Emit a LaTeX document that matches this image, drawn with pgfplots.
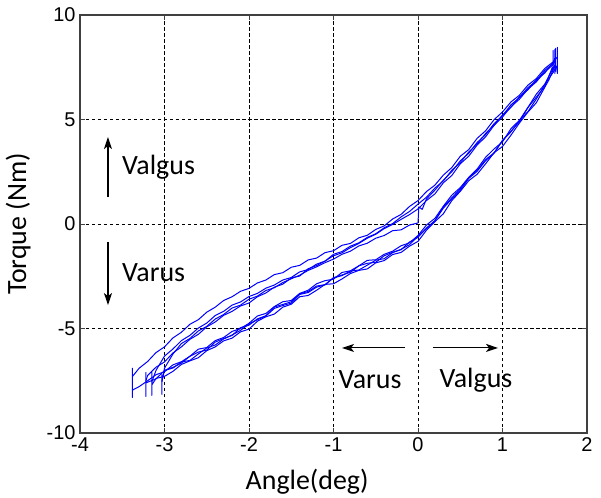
\documentclass[border=0pt]{standalone}
\usepackage{pgfplots}
\pgfplotsset{compat=1.18}
\usepackage{fontspec}
\setmainfont{Carlito}
\newfontfamily\tickfont{Liberation Sans}
\usetikzlibrary{arrows.meta}
\definecolor{mblue}{RGB}{0,0,255}
\pgfplotsset{blueline/.style={color=mblue, mark=none, line width=1bp, line join=round, solid}}
\begin{document}
\begin{tikzpicture}
\useasboundingbox (-80bp,-65bp) rectangle (521bp,433bp);
\begin{axis}[
  at={(0,0)}, anchor=south west,
  scale only axis, width=507bp, height=418bp,
  xmin=-4, xmax=2, ymin=-10, ymax=10,
  xtick={-4,-3,-2,-1,0,1,2}, ytick={-10,-5,0,5,10},
  grid=major,
  grid style={black, line width=0.7bp, dash pattern=on 3.5bp off 2.5bp},
  axis line style={black!75, line width=1.1bp},
  tick align=inside, major tick length=5bp,
  tick style={black!75, line width=0.8bp},
  /pgf/number format/assume math mode=true,
  ticklabel style={font=\tickfont\fontsize{20}{24}\selectfont},
  xticklabel style={yshift=-1.5bp},
  yticklabel style={xshift=-1bp},
  label style={font=\fontsize{28}{32}\selectfont},
  xlabel={Angle(deg)},
  ylabel={Torque (Nm)},
  xlabel style={at={(axis description cs:0.448,-0.117)}, anchor=center},
  ylabel style={at={(axis description cs:-0.122,0.5)}, anchor=center},
  clip=true,
]
% cycle 1 (starts at rest, upper D, lower L1)
\addplot[blueline] coordinates {
(0.00,0.05) (0.01,0.82) (0.05,0.70) (0.1,1.20) (0.2,1.62) (0.3,2.10) (0.4,2.50) (0.5,3.02) (0.6,3.38) (0.7,3.90) (0.8,4.28) (0.9,4.80) (1.0,5.18) (1.1,5.70) (1.2,6.05) (1.3,6.52) (1.4,6.86) (1.5,7.35) (1.6,7.68) (1.62,7.95)
(1.62,8.35) (1.62,7.20) (1.62,7.60)
(1.60,7.47) (1.50,6.69) (1.40,6.21) (1.30,5.57) (1.20,4.96) (1.10,4.56) (1.00,3.93) (0.90,3.59) (0.80,3.19) (0.70,2.63) (0.60,2.23) (0.50,1.74)
(0.40,1.38) (0.30,0.85) (0.20,0.27) (0.10,-0.05) (0.00,-0.55) (-0.10,-0.90) (-0.20,-1.04) (-0.30,-1.30) (-0.40,-1.45) (-0.50,-1.71)
(-0.60,-1.74) (-0.70,-2.00) (-0.80,-2.24) (-0.90,-2.32) (-1.00,-2.64) (-1.10,-2.71) (-1.20,-2.86) (-1.30,-3.17) (-1.40,-3.32) (-1.50,-3.66)
(-1.60,-3.72) (-1.70,-3.95) (-1.80,-4.28) (-1.90,-4.40) (-2.00,-4.75) (-2.10,-5.00) (-2.20,-5.14) (-2.30,-5.43) (-2.40,-5.58) (-2.50,-5.91)
(-2.60,-5.99) (-2.70,-6.33) (-2.80,-6.59) (-2.90,-6.74) (-3.00,-7.07) (-3.10,-7.21) (-3.20,-7.50) (-3.30,-7.78) (-3.38,-7.95)
(-3.38,-8.30) (-3.38,-6.90) (-3.38,-7.30)
};
% cycle 2 (upper A outer, lower L2)
\addplot[blueline] coordinates {
(-3.38,-7.30) (-3.30,-6.90) (-3.20,-6.58) (-3.10,-6.15) (-3.00,-5.88) (-2.90,-5.45) (-2.80,-5.18) (-2.70,-4.80) (-2.60,-4.58) (-2.50,-4.22)
(-2.40,-3.98) (-2.30,-3.66) (-2.20,-3.48) (-2.10,-3.22) (-2.00,-3.08) (-1.90,-2.82) (-1.80,-2.68) (-1.70,-2.42) (-1.60,-2.33) (-1.50,-2.07)
(-1.40,-1.98) (-1.30,-1.72) (-1.20,-1.63) (-1.10,-1.37) (-1.00,-1.28) (-0.90,-1.02) (-0.80,-0.93) (-0.70,-0.66) (-0.60,-0.54) (-0.50,-0.26)
(-0.40,-0.09) (-0.30,0.24) (-0.20,0.46) (-0.10,0.84) (0.00,1.12) (0.10,1.55) (0.20,1.86) (0.30,2.34) (0.40,2.70) (0.50,3.24)
(0.60,3.56) (0.70,4.10) (0.80,4.46) (0.90,4.99) (1.00,5.36) (1.10,5.84) (1.20,6.16) (1.30,6.64) (1.40,6.96) (1.50,7.44) (1.60,7.76) (1.65,8.00)
(1.65,8.45) (1.65,7.20) (1.64,7.55)
(1.60,7.26) (1.50,6.67) (1.40,5.98) (1.30,5.37) (1.20,4.95) (1.10,4.41) (1.00,3.99) (0.90,3.39) (0.80,3.03) (0.70,2.52) (0.60,2.18) (0.50,1.61)
(0.40,1.20) (0.30,0.76) (0.20,0.15) (0.10,-0.23) (0.00,-0.58) (-0.10,-0.99) (-0.20,-1.21) (-0.30,-1.37) (-0.40,-1.66) (-0.50,-1.73)
(-0.60,-1.97) (-0.70,-2.20) (-0.80,-2.25) (-0.90,-2.47) (-1.00,-2.58) (-1.10,-2.91) (-1.20,-3.02) (-1.30,-3.28) (-1.40,-3.37) (-1.50,-3.79)
(-1.60,-3.90) (-1.70,-4.04) (-1.80,-4.40) (-1.90,-4.58) (-2.00,-4.78) (-2.10,-5.09) (-2.20,-5.31) (-2.30,-5.50) (-2.40,-5.79) (-2.50,-5.93)
(-2.60,-6.22) (-2.70,-6.53) (-2.80,-6.60) (-2.90,-6.89) (-3.00,-7.01) (-3.10,-7.41) (-3.22,-7.60)
(-3.22,-8.25) (-3.22,-7.10) (-3.22,-7.50)
};
% cycle 3 (upper B, lower L3)
\addplot[blueline] coordinates {
(-3.22,-7.50) (-3.20,-7.25) (-3.10,-6.85) (-3.00,-6.60) (-2.90,-6.17) (-2.80,-5.88) (-2.70,-5.52) (-2.60,-5.28) (-2.50,-4.92) (-2.40,-4.69)
(-2.30,-4.37) (-2.20,-4.18) (-2.10,-3.92) (-2.00,-3.78) (-1.90,-3.48) (-1.80,-3.30) (-1.70,-3.02) (-1.60,-2.88) (-1.50,-2.58) (-1.40,-2.49)
(-1.30,-2.14) (-1.20,-1.99) (-1.10,-1.77) (-1.00,-1.52) (-0.90,-1.38) (-0.80,-1.13) (-0.70,-0.93) (-0.60,-0.68) (-0.50,-0.49) (-0.40,-0.22)
(-0.30,-0.02) (-0.20,0.22) (-0.10,0.45) (0.00,0.72) (0.10,1.12) (0.20,1.44) (0.30,1.97) (0.40,2.32) (0.50,2.88) (0.60,3.24)
(0.70,3.78) (0.80,4.17) (0.90,4.72) (1.00,5.12) (1.10,5.61) (1.20,5.97) (1.30,6.45) (1.40,6.80) (1.50,7.28) (1.60,7.62) (1.63,7.90)
(1.63,8.40) (1.63,7.30) (1.62,7.60)
(1.55,6.90) (1.50,6.54) (1.40,5.80) (1.30,5.35) (1.20,4.83) (1.10,4.25) (1.00,3.71) (0.90,3.41) (0.80,2.88) (0.70,2.38) (0.60,2.07) (0.50,1.56)
(0.40,1.12) (0.30,0.49) (0.20,0.11) (0.10,-0.30) (0.00,-0.83) (-0.10,-1.06) (-0.20,-1.36) (-0.30,-1.46) (-0.40,-1.75) (-0.50,-1.86)
(-0.60,-2.15) (-0.70,-2.22) (-0.80,-2.37) (-0.90,-2.63) (-1.00,-2.86) (-1.10,-2.89) (-1.20,-3.17) (-1.30,-3.42) (-1.40,-3.48) (-1.50,-3.84)
(-1.60,-3.98) (-1.70,-4.31) (-1.80,-4.44) (-1.90,-4.65) (-2.00,-5.03) (-2.10,-5.16) (-2.20,-5.46) (-2.30,-5.59) (-2.40,-5.88) (-2.50,-6.06)
(-2.60,-6.40) (-2.70,-6.55) (-2.80,-6.72) (-2.90,-7.05) (-3.00,-7.29) (-3.10,-7.39) (-3.15,-7.70)
(-3.15,-8.20) (-3.15,-7.10) (-3.15,-7.55)
};
% cycle 4 (upper C, lower L4)
\addplot[blueline] coordinates {
(-3.15,-7.55) (-3.10,-7.00) (-3.00,-6.32) (-2.90,-5.98) (-2.80,-5.58) (-2.70,-5.33) (-2.60,-4.98) (-2.50,-4.74) (-2.40,-4.38) (-2.30,-4.18)
(-2.20,-3.88) (-2.10,-3.73) (-2.00,-3.47) (-1.90,-3.32) (-1.80,-3.07) (-1.70,-2.92) (-1.60,-2.68) (-1.50,-2.56) (-1.40,-2.29) (-1.30,-2.18)
(-1.20,-1.92) (-1.10,-1.78) (-1.00,-1.45) (-0.90,-1.32) (-0.80,-1.06) (-0.70,-0.90) (-0.60,-0.64) (-0.50,-0.47) (-0.40,-0.18) (-0.30,0.02)
(-0.20,0.34) (-0.10,0.60) (0.00,0.95) (0.10,1.28) (0.20,1.72) (0.30,2.06) (0.40,2.57) (0.50,2.94) (0.60,3.44) (0.70,3.82)
(0.80,4.33) (0.90,4.72) (1.00,5.22) (1.10,5.58) (1.20,6.08) (1.30,6.42) (1.40,6.90) (1.50,7.22) (1.60,7.75)
(1.60,8.30) (1.60,7.25) (1.59,7.50)
(1.50,6.57) (1.40,6.07) (1.30,5.57) (1.20,4.89) (1.10,4.44) (1.00,4.00) (0.90,3.40) (0.80,3.08) (0.70,2.57) (0.60,2.21) (0.50,1.68)
(0.40,1.25) (0.30,0.83) (0.20,0.16) (0.10,-0.19) (0.00,-0.64) (-0.10,-0.86) (-0.20,-1.23) (-0.30,-1.35) (-0.40,-1.52) (-0.50,-1.83)
(-0.60,-1.88) (-0.70,-2.00) (-0.80,-2.31) (-0.90,-2.44) (-1.00,-2.57) (-1.10,-2.90) (-1.20,-2.97) (-1.30,-3.23) (-1.40,-3.34) (-1.50,-3.72)
(-1.60,-3.85) (-1.70,-3.97) (-1.80,-4.39) (-1.90,-4.54) (-2.00,-4.84) (-2.10,-4.96) (-2.20,-5.33) (-2.30,-5.48) (-2.40,-5.65) (-2.50,-6.03)
(-2.60,-6.13) (-2.70,-6.33) (-2.80,-6.66) (-2.90,-6.86) (-3.00,-7.00) (-3.03,-7.50)
(-3.03,-8.15) (-3.03,-7.20) (-3.03,-7.55)
};
% final partial upper (E), ending at rest
\addplot[blueline] coordinates {
(-3.03,-7.55) (-3.00,-6.90) (-2.90,-6.22) (-2.80,-5.72) (-2.70,-5.48) (-2.60,-5.12) (-2.50,-4.90) (-2.40,-4.55) (-2.30,-4.33) (-2.20,-4.02)
(-2.10,-3.88) (-2.00,-3.60) (-1.90,-3.45) (-1.80,-3.18) (-1.70,-3.05) (-1.60,-2.80) (-1.50,-2.62) (-1.40,-2.45) (-1.30,-2.22) (-1.20,-2.05)
(-1.10,-1.85) (-1.00,-1.68) (-0.90,-1.45) (-0.80,-1.30) (-0.70,-1.05) (-0.60,-0.92) (-0.50,-0.68) (-0.40,-0.55) (-0.30,-0.32) (-0.20,-0.28)
(-0.10,-0.05) (0.00,0.05)
};
% annotations
\draw[black, line width=1.1bp, -{Stealth[length=12bp,width=8bp,inset=3bp]}] (axis cs:-3.669,1.29) -- (axis cs:-3.669,4.16);
\draw[black, line width=1.1bp, -{Stealth[length=12bp,width=8bp,inset=3bp]}] (axis cs:-3.669,-0.86) -- (axis cs:-3.669,-3.88);
\draw[black, line width=1.1bp, -{Stealth[length=12bp,width=8bp,inset=3bp]}] (axis cs:-0.154,-5.93) -- (axis cs:-0.899,-5.93);
\draw[black, line width=1.1bp, -{Stealth[length=12bp,width=8bp,inset=3bp]}] (axis cs:0.178,-5.93) -- (axis cs:0.947,-5.93);
\node[anchor=west, inner sep=0pt, font=\fontsize{28}{32}\selectfont] at (axis cs:-3.503,2.73) {Valgus};
\node[anchor=west, inner sep=0pt, font=\fontsize{28}{32}\selectfont] at (axis cs:-3.503,-2.34) {Varus};
\node[anchor=center, inner sep=0pt, font=\fontsize{28}{32}\selectfont] at (axis cs:-0.568,-7.46) {Varus};
\node[anchor=center, inner sep=0pt, font=\fontsize{28}{32}\selectfont] at (axis cs:0.686,-7.46) {Valgus};
\end{axis}
\end{tikzpicture}
\end{document}
